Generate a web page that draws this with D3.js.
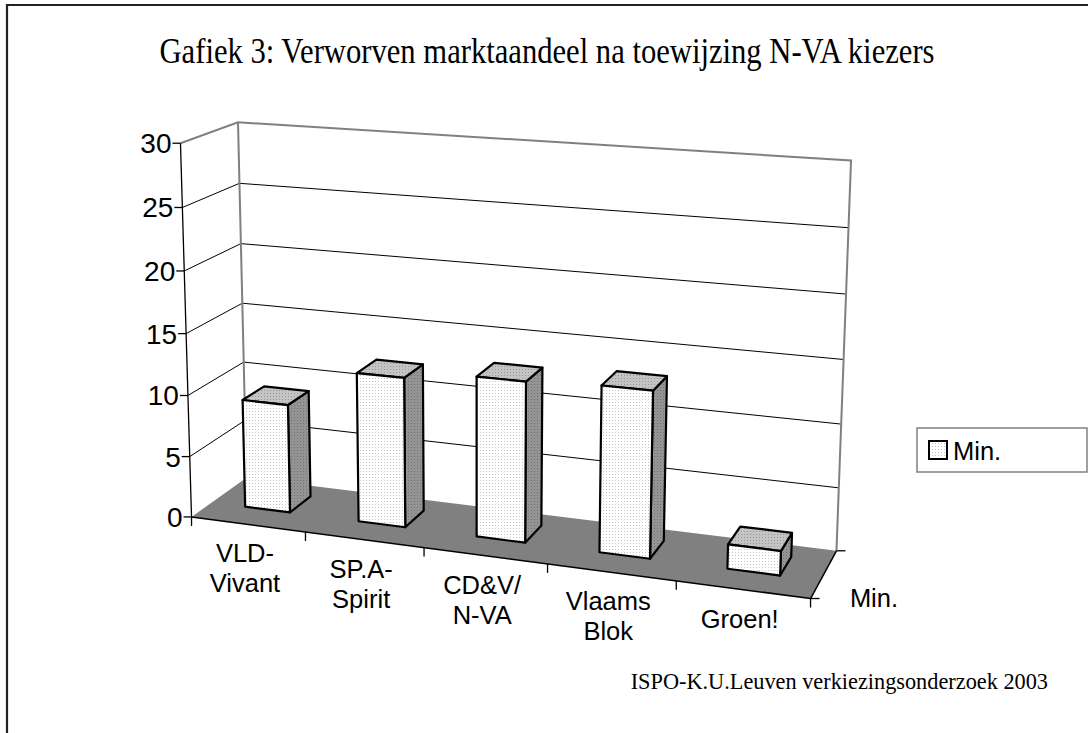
<!DOCTYPE html>
<html>
<head>
<meta charset="utf-8">
<script src="https://cdn.jsdelivr.net/npm/d3@7"></script>
<style>
  body { margin: 0; background: #fff; }
  svg { display: block; }
</style>
</head>
<body>
<div class="chart"></div>
<script>
// data
var categories = [["VLD-", "Vivant"], ["SP.A-", "Spirit"], ["CD&V/", "N-VA"], ["Vlaams", "Blok"], ["Groen!"]];
var seriesName = "Min.";
var values = [8.9, 12.1, 12.8, 13.1, 1.9];
var yTicks = [0, 5, 10, 15, 20, 25, 30];

var width = 1088, height = 733;

var svg = d3.select(".chart").append("svg")
    .attr("width", width)
    .attr("height", height);

var defs = svg.append("defs");
function dots(id, bg, dot) {
  var p = defs.append("pattern").attr("id", id)
    .attr("patternUnits", "userSpaceOnUse").attr("width", 3).attr("height", 3);
  p.append("rect").attr("width", 3).attr("height", 3).attr("fill", bg);
  p.append("rect").attr("width", 1).attr("height", 1).attr("fill", dot);
}
dots("front", "#ffffff", "#c4c4c4");
dots("top", "#c4c4c4", "#989898");
dots("side", "#949494", "#727272");

// --- 3D box -> screen: fit a camera to the box corners (unit cube)
var boxCorners = [
  [[0, 0, 0], [192, 514]],
  [[0, 0, 1], [180.5, 143]],
  [[0, 1, 0], [246, 481]],
  [[0, 1, 1], [238, 122]],
  [[1, 1, 0], [837, 547]],
  [[1, 1, 1], [851, 161]],
  [[1, 0, 0], [810, 602]]
];

function fitCamera(pairs) {
  var A = [], b = [];
  pairs.forEach(function(p) {
    var X = p[0][0], Y = p[0][1], Z = p[0][2], u = p[1][0], v = p[1][1];
    A.push([X, Y, Z, 1, 0, 0, 0, 0, -u * X, -u * Y, -u * Z]); b.push(u);
    A.push([0, 0, 0, 0, X, Y, Z, 1, -v * X, -v * Y, -v * Z]); b.push(v);
  });
  var n = 11;
  var M = d3.range(n).map(function(i) {
    return d3.range(n + 1).map(function(j) {
      return j < n ? d3.sum(A, function(r) { return r[i] * r[j]; })
                   : d3.sum(A, function(r, k) { return r[i] * b[k]; });
    });
  });
  for (var c = 0; c < n; c++) {
    var piv = c;
    for (var r = c + 1; r < n; r++) if (Math.abs(M[r][c]) > Math.abs(M[piv][c])) piv = r;
    var t = M[c]; M[c] = M[piv]; M[piv] = t;
    for (var r2 = 0; r2 < n; r2++) {
      if (r2 === c) continue;
      var f = M[r2][c] / M[c][c];
      for (var k = c; k <= n; k++) M[r2][k] -= f * M[c][k];
    }
  }
  return M.map(function(row, i) { return row[n] / row[i]; });
}
var P = fitCamera(boxCorners);

// scales into the unit cube
var x = d3.scaleLinear().domain([0, categories.length]).range([0, 1]);
var band = d3.scaleBand().domain(d3.range(categories.length)).range([0, 1])
    .paddingInner(0.6).paddingOuter(0.3);
var depth = d3.scaleLinear().domain([0, 1]).range([0, 1]);
var z = d3.scaleLinear().domain([0, 30]).range([0, 1]);

function proj(X, Y, Z) {
  var w = P[8] * X + P[9] * Y + P[10] * Z + 1;
  return [(P[0] * X + P[1] * Y + P[2] * Z + P[3]) / w,
          (P[4] * X + P[5] * Y + P[6] * Z + P[7]) / w];
}
function pt(cx, d, val) { return proj(cx, depth(d), z(val)); }
var line = d3.line();
function poly(pts) { return line(pts) + "Z"; }

// frame
svg.append("path")
  .attr("d", "M7," + height + "V5H" + width)
  .attr("fill", "none").attr("stroke", "#222").attr("stroke-width", 2.2);

// title + source
svg.append("text")
  .attr("x", 547).attr("y", 63)
  .attr("text-anchor", "middle")
  .attr("textLength", 775).attr("lengthAdjust", "spacingAndGlyphs")
  .style("font-family", "'Liberation Serif', 'Times New Roman', serif")
  .style("font-size", "36px")
  .text("Gafiek 3: Verworven marktaandeel na toewijzing N-VA kiezers");

svg.append("text")
  .attr("x", 1048).attr("y", 689)
  .attr("text-anchor", "end")
  .style("font-family", "'Liberation Serif', 'Times New Roman', serif")
  .style("font-size", "22.3px")
  .text("ISPO-K.U.Leuven verkiezingsonderzoek 2003");

var plot = svg.append("g");

// walls
plot.append("path")
  .attr("d", poly([pt(0, 0, 0), pt(0, 0, 30), pt(0, 1, 30), pt(0, 1, 0)]))
  .attr("fill", "#fff");
plot.append("path")
  .attr("d", poly([pt(0, 1, 0), pt(0, 1, 30), pt(1, 1, 30), pt(1, 1, 0)]))
  .attr("fill", "#fff");

// floor
plot.append("path")
  .attr("d", poly([pt(0, 0, 0), pt(0, 1, 0), pt(1, 1, 0), pt(1, 0, 0)]))
  .attr("fill", "#808080");

// gridlines
var grid = yTicks.filter(function(t) { return t > 0 && t < 30; });
plot.selectAll(".grid")
  .data(grid)
  .enter().append("path")
    .attr("class", "grid")
    .attr("d", function(t) { return line([pt(0, 0, t), pt(0, 1, t), pt(1, 1, t)]); })
    .attr("fill", "none").attr("stroke", "#000").attr("stroke-width", 1);

// wall edges (grey)
plot.append("path")
  .attr("d", line([pt(0, 0, 30), pt(0, 1, 30), pt(1, 1, 30), pt(1, 1, 0)]))
  .attr("fill", "none").attr("stroke", "#808080").attr("stroke-width", 2);
plot.append("path")
  .attr("d", line([pt(0, 1, 0), pt(0, 1, 30)]))
  .attr("fill", "none").attr("stroke", "#808080").attr("stroke-width", 2);

// value axis
plot.append("path")
  .attr("d", line([pt(0, 0, 0), pt(0, 0, 30)]))
  .attr("stroke", "#000").attr("stroke-width", 1.3);
var yt = plot.selectAll(".ytick").data(yTicks).enter().append("g").attr("class", "ytick");
yt.append("path")
  .attr("d", function(t) { var p = pt(0, 0, t); return line([[p[0] - 8, p[1]], p]); })
  .attr("stroke", "#000").attr("stroke-width", 1.3);
yt.append("text")
  .attr("x", function(t) { return pt(0, 0, t)[0] - 9; })
  .attr("y", function(t) { return pt(0, 0, t)[1] + 10; })
  .attr("text-anchor", "end")
  .style("font-family", "Arial, 'Liberation Sans', sans-serif")
  .style("font-size", "28px")
  .text(function(t) { return t; });

// category axis
plot.append("path")
  .attr("d", line([pt(0, 0, 0), pt(1, 0, 0)]))
  .attr("stroke", "#000").attr("stroke-width", 1.5);
plot.selectAll(".xtick")
  .data(d3.range(categories.length + 1))
  .enter().append("path")
    .attr("d", function(i) { var p = pt(x(i), 0, 0); return line([p, [p[0], p[1] + 9]]); })
    .attr("stroke", "#000").attr("stroke-width", 1.3);
var xl = plot.selectAll(".xlab")
  .data(categories)
  .enter().append("text")
    .attr("text-anchor", "middle")
    .style("font-family", "Arial, 'Liberation Sans', sans-serif")
    .style("font-size", "25.5px")
    .attr("transform", function(d, i) {
      var p = pt(x(i + 0.5), 0, 0);
      return "translate(" + (p[0] - 3) + "," + (p[1] + 38) + ")";
    });
xl.selectAll("tspan")
  .data(function(d) { return d; })
  .enter().append("tspan")
    .attr("x", 0)
    .attr("y", function(d, j) { return j * 30; })
    .text(function(d) { return d; });

// depth axis
plot.append("path")
  .attr("d", line([pt(1, 0, 0), pt(1, 1, 0)]))
  .attr("stroke", "#000").attr("stroke-width", 1.5);
plot.selectAll(".dtick")
  .data([0, 1])
  .enter().append("path")
    .attr("d", function(d) { var p = pt(1, d, 0); return line([p, [p[0] + 9, p[1]]]); })
    .attr("stroke", "#000").attr("stroke-width", 1.3);
var dm = pt(1, 0.5, 0);
plot.append("text")
  .attr("x", dm[0] + 26).attr("y", dm[1] + 33)
  .style("font-family", "Arial, 'Liberation Sans', sans-serif")
  .style("font-size", "25.5px")
  .text(seriesName);

// bars (sit slightly behind the middle of the floor depth)
var d0 = 0.36, d1 = 0.76;
var bars = plot.selectAll(".bar")
  .data(values)
  .enter().append("g").attr("class", "bar");
function faces(v, i) {
  var xa = band(i), xb = band(i) + band.bandwidth();
  return [
    { fill: "url(#side)", pts: [pt(xb, d0, 0), pt(xb, d1, 0), pt(xb, d1, v), pt(xb, d0, v)] },
    { fill: "url(#top)", pts: [pt(xa, d0, v), pt(xb, d0, v), pt(xb, d1, v), pt(xa, d1, v)] },
    { fill: "url(#front)", pts: [pt(xa, d0, 0), pt(xb, d0, 0), pt(xb, d0, v), pt(xa, d0, v)] }
  ];
}
bars.selectAll("path")
  .data(function(v, i) { return faces(v, i); })
  .enter().append("path")
    .attr("d", function(f) { return poly(f.pts); })
    .attr("fill", function(f) { return f.fill; })
    .attr("stroke", "#000").attr("stroke-width", 2.2)
    .attr("stroke-linejoin", "round");

// legend
var lg = svg.append("g").attr("transform", "translate(917,428)");
lg.append("rect").attr("width", 170).attr("height", 44)
  .attr("fill", "#fff").attr("stroke", "#808080").attr("stroke-width", 1.5);
lg.append("rect").attr("x", 12).attr("y", 13).attr("width", 18).attr("height", 18)
  .attr("fill", "url(#front)").attr("stroke", "#000").attr("stroke-width", 2);
lg.append("text").attr("x", 36).attr("y", 32)
  .style("font-family", "Arial, 'Liberation Sans', sans-serif")
  .style("font-size", "25.5px")
  .text(seriesName);
</script>
</body>
</html>
